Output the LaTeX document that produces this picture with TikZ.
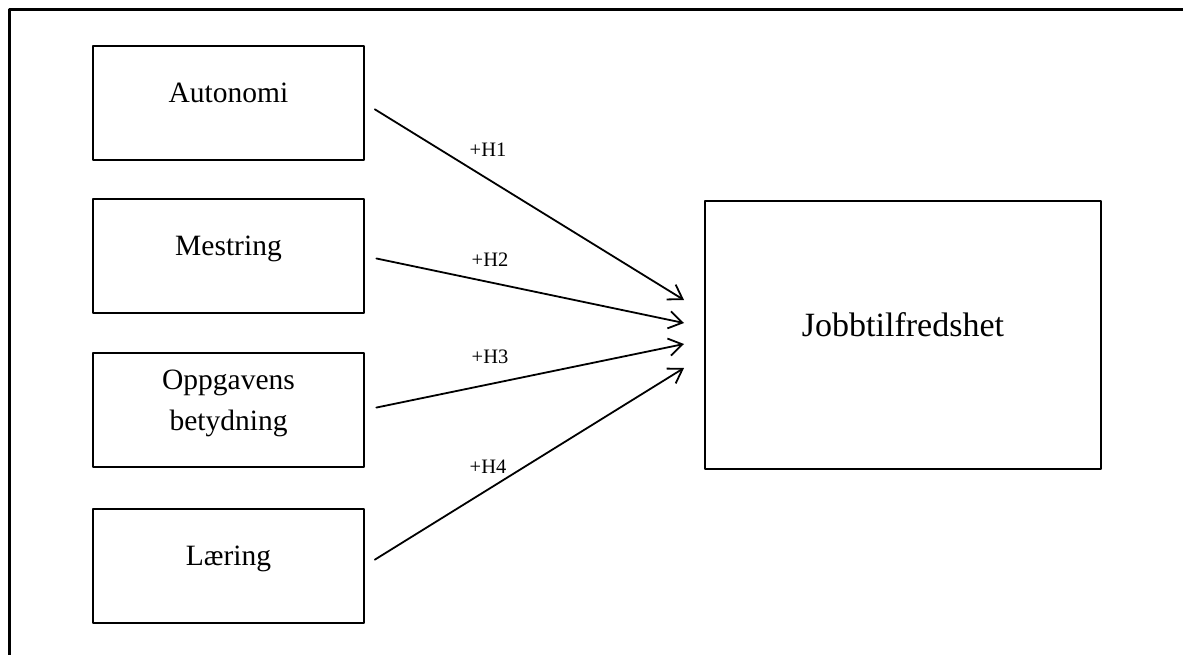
\documentclass[tikz,border=0pt]{standalone}
\usepackage{fontspec}
\setmainfont{Liberation Serif}
\usetikzlibrary{positioning, arrows.meta}

\tikzset{
  boks/.style={draw=black, line width=1.2pt, minimum width=271pt, minimum height=114pt,
    align=center, inner sep=0pt, font=\fontsize{29.5}{41}\selectfont,
    execute at end node={\rule[-20pt]{0pt}{0pt}}},
  hyp/.style={font=\fontsize{20.5}{24}\selectfont, inner sep=0pt},
  pil/.style={line width=1.8pt, -{Straight Barb[length=13.5pt, width=17.4pt, line width=1.8pt]}}
}

\begin{document}
\begin{tikzpicture}[x=1pt, y=-1pt, line join=round, line cap=round]

    \useasboundingbox (0,0) rectangle (1183,655);

    % Frame (top and left only)
    \draw[line width=3pt, line cap=rect] (1183,10) -- (9,10) -- (9,655);

    % Left boxes
    \node[boks] (autonomi)  at (228.5,103) {Autonomi};
    \node[boks] (mestring)  at (228.5,256) {Mestring};
    \node[boks] (oppgavens) at (228.5,410) {Oppgavens\\betydning};
    \node[boks] (laering)   at (228.5,566) {Læring};

    % Right box
    \node[boks, minimum width=396pt, minimum height=268pt,
          font=\fontsize{34}{40}\selectfont] (jobb) at (903,335) {Jobbtilfredshet};

    % Arrow ends
    \coordinate (inn1) at (684,300);
    \coordinate (inn2) at (684,323);
    \coordinate (inn3) at (684,344);
    \coordinate (inn4) at (684,368);

    % Hypotheses
    \draw[pil, shorten <=12pt] (autonomi.east)  -- (inn1);
    \draw[pil, shorten <=12pt] (mestring.east)  -- (inn2);
    \draw[pil, shorten <=12pt] (oppgavens.east) -- (inn3);
    \draw[pil, shorten <=12pt] (laering.east)   -- (inn4);

    \node[hyp] (h1) at (488,150) {+H1};
    \node[hyp] (h2) at (490,260) {+H2};
    \node[hyp] (h3) at (490,357) {+H3};
    \node[hyp] (h4) at (488,467) {+H4};
  \end{tikzpicture}
\end{document}
